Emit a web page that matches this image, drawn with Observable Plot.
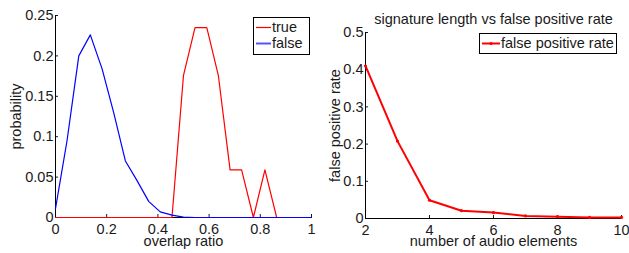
<!DOCTYPE html>
<html>
<head>
<meta charset="utf-8">
<script src="https://cdn.jsdelivr.net/npm/d3@7"></script>
<script src="https://cdn.jsdelivr.net/npm/@observablehq/plot@0.6"></script>
<style>
  html, body { margin: 0; padding: 0; background: #fff; }
  #wrap { position: relative; width: 629px; height: 253px; font-family: "Liberation Sans", Arial, Helvetica, sans-serif; color: #1a1a1a; }
  #wrap > div.panel { position: absolute; top: 0; }
  .legend { position: absolute; background: #fff; border: 1px solid #000; font-size: 14.5px; line-height: 16px; box-sizing: border-box; }
  .legend .row { display: flex; align-items: center; white-space: nowrap; }
  .legend svg { display: block; }
</style>
</head>
<body>
<div id="wrap"></div>
<script>
// ---- Left chart data ----
const overlapRatio = [0, 0.045, 0.091, 0.136, 0.182, 0.227, 0.273, 0.318, 0.364, 0.409, 0.455, 0.5, 0.545, 0.591, 0.636, 0.682, 0.727, 0.773, 0.818, 0.864, 0.909, 0.955, 1];
const trueProb  = [0, 0, 0, 0, 0, 0, 0, 0, 0, 0, 0, 0.176, 0.235, 0.235, 0.176, 0.059, 0.059, 0, 0.059, 0, 0, 0, 0];
const falseProb = [0.011, 0.095, 0.2, 0.226, 0.184, 0.13, 0.07, 0.046, 0.02, 0.007, 0.003, 0.0005, 0, 0, 0, 0, 0, 0, 0, 0, 0, 0, 0];
const leftXTicks = [0, 0.2, 0.4, 0.6, 0.8, 1];
const leftYTicks = [0, 0.05, 0.1, 0.15, 0.2, 0.25];
const leftSeries = ["true", "false"];

// ---- Right chart data ----
const audioElements = [2, 3, 4, 5, 6, 7, 8, 9, 10];
const falsePositiveRate = [0.41, 0.208, 0.049, 0.021, 0.016, 0.007, 0.005, 0.003, 0.003];
const rightXTicks = [2, 4, 6, 8, 10];
const rightYTicks = [0, 0.1, 0.2, 0.3, 0.4, 0.5];
const rightTitle = "signature length vs false positive rate";
const rightSeries = ["false positive rate"];

const RED = "#ff0000", BLUE = "#0000ff", INK = "#1a1a1a";
const fmt = d => String(+d.toFixed(3));
const font = "'Liberation Sans', Arial, Helvetica, sans-serif";

const trueRows = overlapRatio.map((x, i) => ({x, y: trueProb[i]}));
const falseRows = overlapRatio.map((x, i) => ({x, y: falseProb[i]}));
const fprRows = audioElements.map((x, i) => ({x, y: falsePositiveRate[i]}));

const common = {
  style: {fontSize: "14.5px", fontFamily: font, color: INK, background: "transparent", overflow: "visible"}
};

const left = Plot.plot({
  ...common,
  width: 320, height: 253,
  marginLeft: 55, marginRight: 9, marginTop: 15, marginBottom: 36,
  x: {domain: [0, 1]},
  y: {domain: [0, 0.25]},
  marks: [
    Plot.axisX({ticks: leftXTicks, tickSize: -3, tickPadding: 9, tickFormat: fmt, label: "overlap ratio", labelAnchor: "center", labelOffset: 28, labelArrow: "none"}),
    Plot.axisY({ticks: leftYTicks, tickSize: -3, tickPadding: 5, tickFormat: fmt, label: "probability", labelAnchor: "center", labelOffset: 45, labelArrow: "none"}),
    Plot.ruleX([0], {stroke: "#000"}),
    Plot.ruleY([0], {stroke: "#000"}),
    Plot.line(trueRows, {x: "x", y: "y", stroke: RED, strokeWidth: 1.2}),
    Plot.line(falseRows, {x: "x", y: "y", stroke: BLUE, strokeWidth: 1.2})
  ]
});

const right = Plot.plot({
  ...common,
  width: 319, height: 253,
  marginLeft: 55, marginRight: 8, marginTop: 32, marginBottom: 35,
  x: {domain: [2, 10]},
  y: {domain: [0, 0.5]},
  marks: [
    Plot.axisX({ticks: rightXTicks, tickSize: -3, tickPadding: 9, tickFormat: fmt, label: "number of audio elements", labelAnchor: "center", labelOffset: 27, labelArrow: "none"}),
    Plot.axisY({ticks: rightYTicks, tickSize: -3, tickPadding: 5, tickFormat: fmt, label: "false positive rate", labelAnchor: "center", labelOffset: 36, labelArrow: "none"}),
    Plot.ruleX([2], {stroke: "#000"}),
    Plot.ruleY([0], {stroke: "#000"}),
    Plot.text([rightTitle], {frameAnchor: "top", dy: -19, text: d => d, fill: INK, fontSize: 14.5}),
    Plot.line(fprRows, {x: "x", y: "y", stroke: RED, strokeWidth: 2}),
    Plot.dot(fprRows, {x: "x", y: "y", fill: RED, r: 1.6})
  ]
});

const wrap = document.getElementById("wrap");
const p1 = document.createElement("div"); p1.className = "panel"; p1.style.left = "0px"; p1.appendChild(left);
const p2 = document.createElement("div"); p2.className = "panel"; p2.style.left = "310px"; p2.appendChild(right);
wrap.appendChild(p1); wrap.appendChild(p2);

function legend(items, {left, top, width, height, lineW, marker}) {
  const box = document.createElement("div");
  box.className = "legend";
  Object.assign(box.style, {left: left + "px", top: top + "px", width: width + "px", height: height + "px", padding: "1px 0 0 1px"});
  items.forEach(({label, color, w}) => {
    const row = document.createElement("div");
    row.className = "row";
    row.style.height = "16px";
    const s = d3.create("svg").attr("width", lineW + 1).attr("height", 16);
    s.append("line").attr("x1", 1).attr("x2", lineW).attr("y1", 8.5).attr("y2", 8.5).attr("stroke", color).attr("stroke-width", w);
    if (marker) s.append("circle").attr("cx", (lineW + 1) / 2).attr("cy", 8.5).attr("r", 1.6).attr("fill", color);
    row.appendChild(s.node());
    const t = document.createElement("span"); t.textContent = label; row.appendChild(t);
    box.appendChild(row);
  });
  wrap.appendChild(box);
}

legend([{label: leftSeries[0], color: RED, w: 1.2}, {label: leftSeries[1], color: "#5555ff", w: 2}],
  {left: 253, top: 17, width: 57, height: 38, lineW: 16, marker: false});
legend([{label: rightSeries[0], color: RED, w: 2}],
  {left: 479, top: 33, width: 138, height: 21, lineW: 19, marker: true});
</script>
</body>
</html>
